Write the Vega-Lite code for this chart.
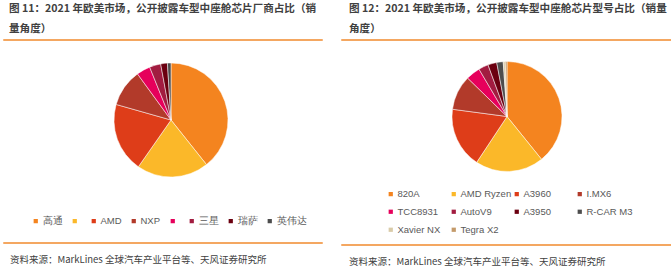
{
  "$schema": "https://vega.github.io/schema/vega-lite/v6.json",
  "padding": {"left": 3, "right": 0, "top": 2, "bottom": 0},
  "background": "white",
  "config": {
    "view": {"stroke": null},
    "font": "Noto Sans CJK SC",
    "title": {"font": "Noto Sans CJK SC", "color": "#404040"}
  },
  "spacing": 3,
  "resolve": {"scale": {"color": "independent"}, "legend": {"color": "independent"}},
  "hconcat": [
    {
      "spacing": 3,
      "resolve": {"scale": {"color": "independent"}, "legend": {"color": "independent"}},
      "vconcat": [
        {
          "width": 318,
          "height": 0.01,
          "data": {"values": [{}]},
          "mark": {"type": "point", "opacity": 0},
          "encoding": {},
          "view": {"stroke": "#F08A2C", "strokeWidth": 1.5},
          "title": {
            "text": ["图 11：2021 年欧美市场，公开披露车型中座舱芯片厂商占比（销", "量角度）"],
            "anchor": "start", "frame": "group", "fontSize": 10.6, "lineHeight": 20,
            "fontWeight": "bold", "dx": 5, "offset": 3
          }
        },
        {
          "spacing": 13,
          "resolve": {"scale": {"color": "independent"}, "legend": {"color": "independent"}},
          "vconcat": [
            {
              "width": 334,
              "height": 146,
              "data": {"values": [
                {"vendor": "高通", "share": 39.3, "idx": 1},
                {"vendor": "\u00a0\u00a0\u00a0\u00a0\u00a0\u00a0\u00a0\u00a0", "share": 20.4, "idx": 2},
                {"vendor": "AMD", "share": 19.7, "idx": 3},
                {"vendor": "NXP", "share": 10.6, "idx": 4},
                {"vendor": "\u00a0\u00a0\u00a0\u00a0\u00a0\u00a0\u00a0\u00a0\u00a0\u00a0\u200b", "share": 3.9, "idx": 5},
                {"vendor": "三星", "share": 3.2, "idx": 6},
                {"vendor": "瑞萨", "share": 1.9, "idx": 7},
                {"vendor": "英伟达", "share": 1.0, "idx": 8}
              ]},
              "mark": {"type": "arc", "outerRadius": 57, "stroke": "white", "strokeWidth": 0.5},
              "encoding": {
                "theta": {"field": "share", "type": "quantitative", "stack": true},
                "order": {"field": "idx", "type": "quantitative"},
                "color": {
                  "field": "vendor", "type": "nominal",
                  "scale": {
                    "domain": ["高通", "\u00a0\u00a0\u00a0\u00a0\u00a0\u00a0\u00a0\u00a0", "AMD", "NXP", "\u00a0\u00a0\u00a0\u00a0\u00a0\u00a0\u00a0\u00a0\u00a0\u00a0\u200b", "三星", "瑞萨", "英伟达"],
                    "range": ["#F4841F", "#FBB829", "#DE3D19", "#B23A2A", "#E6005B", "#A21C40", "#6B0010", "#4D4D4D"]
                  },
                  "legend": {
                    "title": null, "orient": "none", "legendX": 27, "legendY": 169,
                    "direction": "horizontal", "symbolType": "square", "symbolSize": 18,
                    "symbolStrokeWidth": 0, "labelFontSize": 9.5, "labelColor": "#595959",
                    "labelFont": "Liberation Sans", "columnPadding": 7,
                    "labelOffset": 2, "padding": 0
                  }
                }
              }
            },
            {
              "width": 318,
              "height": 0.01,
              "data": {"values": [{}]},
              "mark": {"type": "point", "opacity": 0},
              "encoding": {},
              "view": {"stroke": "#F08A2C", "strokeWidth": 1.5},
              "title": {
                "text": "资料来源：MarkLines 全球汽车产业平台等、天风证券研究所",
                "orient": "bottom", "anchor": "start", "frame": "group", "fontSize": 9.5,
                "fontWeight": "normal", "dx": 6, "offset": 9, "baseline": "top"
              }
            }
          ]
        }
      ]
    },
    {
      "spacing": 3,
      "resolve": {"scale": {"color": "independent"}, "legend": {"color": "independent"}},
      "vconcat": [
        {
          "width": 331,
          "height": 0.01,
          "data": {"values": [{}]},
          "mark": {"type": "point", "opacity": 0},
          "encoding": {},
          "view": {"stroke": "#F08A2C", "strokeWidth": 1.5},
          "title": {
            "text": ["图 12：2021 年欧美市场，公开披露车型中座舱芯片型号占比（销量", "角度）"],
            "anchor": "start", "frame": "group", "fontSize": 10.6, "lineHeight": 20,
            "fontWeight": "bold", "dx": 7, "offset": 3
          }
        },
        {
          "spacing": 6,
          "resolve": {"scale": {"color": "independent"}, "legend": {"color": "independent"}},
          "vconcat": [
            {
              "width": 330,
              "height": 139,
              "data": {"values": [
                {"model": "820A", "share": 39.2, "idx": 1},
                {"model": "AMD Ryzen", "share": 20.1, "idx": 2},
                {"model": "A3960", "share": 17.8, "idx": 3},
                {"model": "I.MX6", "share": 10.2, "idx": 4},
                {"model": "TCC8931", "share": 4.2, "idx": 5},
                {"model": "AutoV9", "share": 2.9, "idx": 6},
                {"model": "A3950", "share": 2.6, "idx": 7},
                {"model": "R-CAR M3", "share": 1.9, "idx": 8},
                {"model": "Xavier NX", "share": 0.6, "idx": 9},
                {"model": "Tegra X2", "share": 0.5, "idx": 10}
              ]},
              "mark": {"type": "arc", "outerRadius": 55, "stroke": "white", "strokeWidth": 0.5},
              "encoding": {
                "theta": {"field": "share", "type": "quantitative", "stack": true},
                "order": {"field": "idx", "type": "quantitative"},
                "color": {
                  "field": "model", "type": "nominal",
                  "scale": {
                    "domain": ["820A", "AMD Ryzen", "A3960", "I.MX6", "TCC8931", "AutoV9", "A3950", "R-CAR M3", "Xavier NX", "Tegra X2"],
                    "range": ["#F4841F", "#FBB829", "#DE3D19", "#B23A2A", "#E6005B", "#A21C40", "#6B0010", "#4D4D4D", "#D9CBA8", "#C49A6A"]
                  },
                  "legend": {
                    "title": null, "orient": "none", "legendX": 44, "legendY": 142,
                    "direction": "horizontal", "columns": 4, "gridAlign": "all",
                    "symbolType": "square", "symbolSize": 18, "symbolStrokeWidth": 0,
                    "labelFontSize": 9.5, "labelColor": "#595959",
                    "labelFont": "Liberation Sans", "columnPadding": -8,
                    "rowPadding": 7, "labelOffset": 2, "padding": 0
                  }
                }
              }
            },
            {
              "width": 331,
              "height": 0.01,
              "data": {"values": [{}]},
              "mark": {"type": "point", "opacity": 0},
              "encoding": {},
              "view": {"stroke": "#F08A2C", "strokeWidth": 1.5},
              "title": {
                "text": "资料来源：MarkLines 全球汽车产业平台等、天风证券研究所",
                "orient": "bottom", "anchor": "start", "frame": "group", "fontSize": 9.5,
                "fontWeight": "normal", "dx": 7, "offset": 9, "baseline": "top"
              }
            }
          ]
        }
      ]
    }
  ]
}
